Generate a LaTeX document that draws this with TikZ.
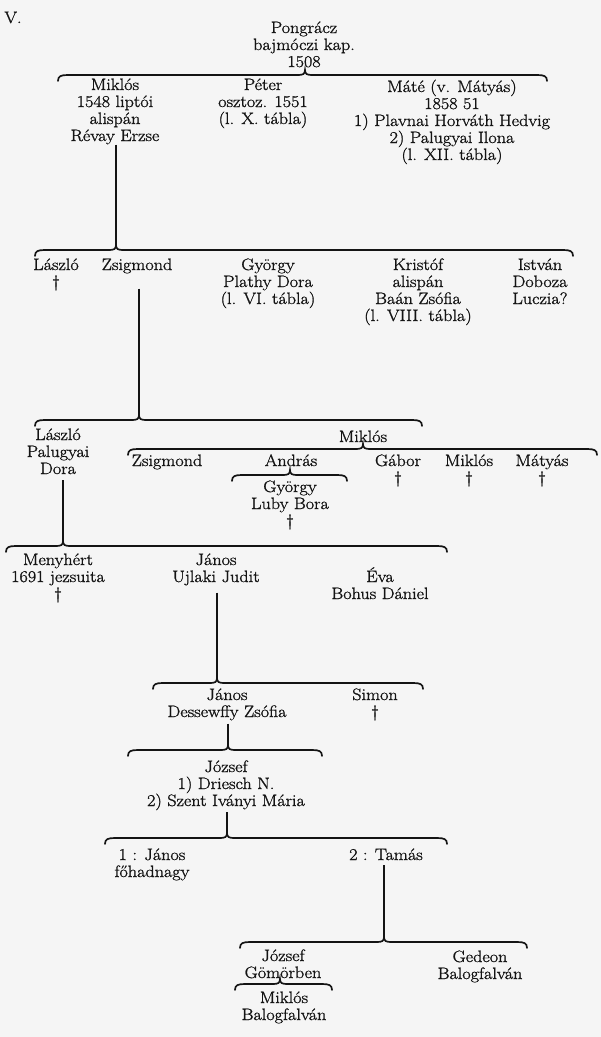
\documentclass[tikz,border=0pt]{standalone}
\usepackage{fontspec}
\setmainfont{Latin Modern Roman}[FakeStretch=1.1,FakeBold=1.3]
\definecolor{ink}{RGB}{20,20,20}
\definecolor{paper}{RGB}{245,245,245}
\newcommand{\famBrace}[5]{%
  \coordinate (#1) at (#4,#5-5);
  \draw[bracestyle] (#2,#5+6) .. controls (#2,#5+1) and (#2+3,#5) .. (#2+10,#5)
    -- (#4-7,#5) .. controls (#4-2,#5) and (#4,#5-1) .. (#4,#5-5)
    .. controls (#4,#5-1) and (#4+2,#5) .. (#4+7,#5)
    -- (#3-10,#5) .. controls (#3-3,#5) and (#3,#5+1) .. (#3,#5+6);
}
\begin{document}
\begin{tikzpicture}[x=1pt,y=-1pt,
  txt/.style={align=center, anchor=base, inner sep=0pt, text=ink,
    font=\fontsize{16.5}{17}\selectfont},
  bracestyle/.style={line width=1.7pt, line cap=round, draw=ink},
  conn/.style={line width=1.6pt, draw=ink}]
\fill[paper] (0,0) rectangle (601,1037);
\useasboundingbox (0,0) rectangle (601,1037);

\node[txt] (vv) at (13,23) {V.};
\node[txt] (pon) at (304,67) {Pongrácz\\bajmóczi kap.\\1508};
\famBrace{b1}{58}{547}{305}{75}

\node[txt] (m1) at (115,141) {Miklós\\1548 liptói\\alispán\\Révay Erzse};
\node[txt] (p1) at (263,124) {Péter\\osztoz. 1551\\(l. X. tábla)};
\node[txt] (ma1) at (452,160) {Máté (v. Mátyás)\\1858 51\\1) Plavnai Horváth Hedvig\\2) Palugyai Ilona\\(l. XII. tábla)};
\famBrace{b2}{35}{573}{116}{250}
\draw[conn] (b2 |- m1.south) -- (b2);

\node[txt] (l2) at (56,287) {László\\\textdagger};
\node[txt] (zs2) at (137,270) {Zsigmond};
\node[txt] (gy2) at (268,304) {György\\Plathy Dora\\(l. VI. tábla)};
\node[txt] (kr2) at (418,321) {Kristóf\\alispán\\Baán Zsófia\\(l. VIII. tábla)};
\node[txt] (is2) at (540,304) {István\\Doboza\\Luczia?};
\famBrace{b3}{35}{422}{139}{420}
\draw[conn] (b3 |- zs2.south) ++(0,15) -- (b3);

\node[txt] (l3) at (58,474) {László\\Palugyai\\Dora};
\node[txt] (mi3) at (363,442) {Miklós};
\famBrace{b4}{128}{597}{363}{449}
\node[txt] (zs3) at (167,466) {Zsigmond};
\node[txt] (an3) at (291,466) {András};
\node[txt] (ga3) at (398,483) {Gábor\\\textdagger};
\node[txt] (mk3) at (469,483) {Miklós\\\textdagger};
\node[txt] (mt3) at (542,483) {Mátyás\\\textdagger};
\famBrace{b5}{232}{347}{290}{475}
\node[txt] (gy3) at (290,526) {György\\Luby Bora\\\textdagger};
\famBrace{b6}{6}{447}{63}{546}
\draw[conn] (b6 |- l3.south) ++(0,6) -- (b6);

\node[txt] (me4) at (58,599) {Menyhért\\1691 jezsuita\\\textdagger};
\node[txt] (ja4) at (216,582) {János\\Ujlaki Judit};
\node[txt] (ev4) at (380,599) {Éva\\Bohus Dániel};
\famBrace{b7}{153}{423}{217}{683}
\draw[conn] (b7 |- ja4.south) ++(0,7) -- (b7);

\node[txt] (ja5) at (227,717) {János\\Dessewffy Zsófia};
\node[txt] (si5) at (375,717) {Simon\\\textdagger};
\famBrace{b8}{128}{322}{228}{750}
\draw[conn] (b8 |- ja5.south) ++(0,3) -- (b8);

\node[txt] (jo6) at (226,806) {József\\1) Driesch N.\\2) Szent Iványi Mária};
\famBrace{b9}{105}{447}{227}{838}
\draw[conn] (b9 |- jo6.south) ++(0,2) -- (b9);

\node[txt] (ja7) at (152,877) {1 : János\\főhadnagy};
\node[txt] (ta7) at (386,860) {2 : Tamás};
\famBrace{b10}{240}{527}{384}{942}
\draw[conn] (b10 |- ta7.south) ++(0,5) -- (b10);

\node[txt] (jo8) at (283,978) {József\\Gömörben};
\famBrace{b11}{235}{332}{280}{984}
\node[txt] (mi8) at (284,1020) {Miklós\\Balogfalván};
\node[txt] (ge8) at (480,979) {Gedeon\\Balogfalván};
\end{tikzpicture}
\end{document}
